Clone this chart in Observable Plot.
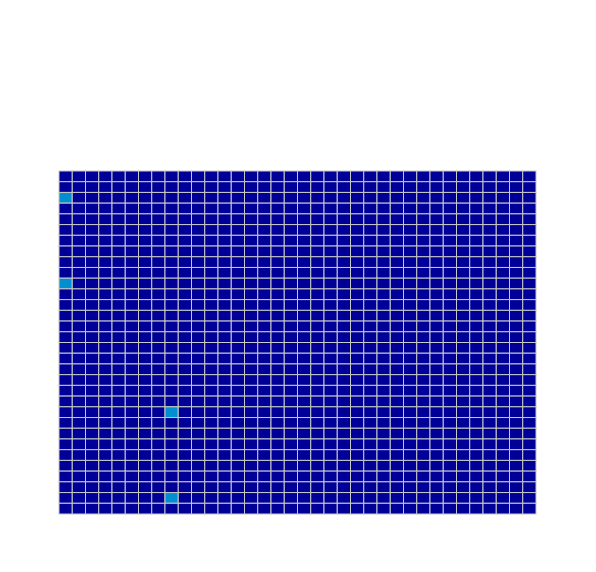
<!DOCTYPE html>
<html>
<head>
<meta charset="utf-8">
<script src="https://cdn.jsdelivr.net/npm/d3@7"></script>
<script src="https://cdn.jsdelivr.net/npm/@observablehq/plot@0.6"></script>
<style>
  html, body { margin: 0; padding: 0; background: #fff; }
</style>
</head>
<body>
<div id="chart"></div>
<script>
// Grid categories
const columns = d3.range(36);   // 36 columns
const rows = d3.range(32);      // 32 rows (top to bottom)

// Non-zero cells: [column, row, value]
const hitColumns = [0, 0, 8, 8];
const hitRows = [2, 10, 22, 30];
const hitValues = [1, 1, 1, 1];

const hitMap = new Map(hitColumns.map((c, i) => [`${c}-${hitRows[i]}`, hitValues[i]]));
const table = [];
for (const r of rows) {
  for (const c of columns) {
    table.push({col: c, row: r, value: hitMap.get(`${c}-${r}`) ?? 0});
  }
}

const chart = Plot.plot({
  width: 596,
  height: 572,
  marginLeft: 59,
  marginRight: 60,
  marginTop: 171,
  marginBottom: 58,
  style: {background: "#fff"},
  x: {domain: columns, axis: null, padding: 0, round: false},
  y: {domain: rows, axis: null, padding: 0, round: false},
  color: {type: "linear", domain: [0, 1], range: ["#000099", "#0090d0"]},
  marks: [
    Plot.cell(table, {x: "col", y: "row", fill: "value", stroke: "#c8c8c8", strokeWidth: 1})
  ]
});
document.getElementById("chart").appendChild(chart);
</script>
</body>
</html>
